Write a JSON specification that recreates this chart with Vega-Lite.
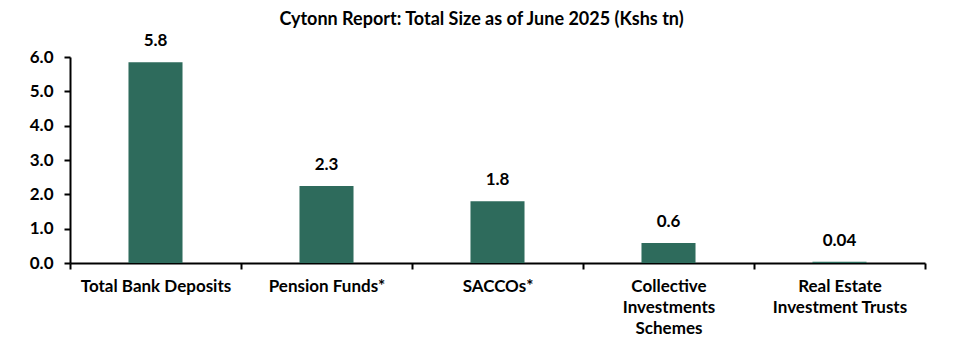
{
  "$schema": "https://vega.github.io/schema/vega-lite/v6.json",
  "width": 855,
  "height": 206,
  "autosize": "none",
  "padding": {"left": 70, "top": 57, "right": 31, "bottom": 91},
  "background": "white",
  "title": {
    "text": "Cytonn Report: Total Size as of June 2025 (Kshs tn)",
    "font": "Lato",
    "fontSize": 18,
    "fontWeight": "bold",
    "color": "black",
    "anchor": "middle",
    "dx": -16,
    "offset": 3
  },
  "config": {"view": {"stroke": null}},
  "data": {
    "values": [
      {"category": "Total Bank Deposits", "value": 5.85, "label": "5.8"},
      {"category": "Pension Funds*", "value": 2.24, "label": "2.3"},
      {"category": "SACCOs*", "value": 1.8, "label": "1.8"},
      {"category": "Collective|Investments|Schemes", "value": 0.58, "label": "0.6"},
      {"category": "Real Estate|Investment Trusts", "value": 0.04, "label": "0.04"}
    ]
  },
  "encoding": {
    "x": {
      "field": "category",
      "type": "nominal",
      "sort": null,
      "scale": {"paddingInner": 0, "paddingOuter": 0},
      "axis": {
        "title": null,
        "labelAngle": 0,
        "tickBand": "extent",
        "labelExpr": "split(datum.label, '|')",
        "labelLineHeight": 21,
        "labelFont": "Lato",
        "labelFontSize": 17,
        "labelFontWeight": "bold",
        "labelColor": "black",
        "labelPadding": 9,
        "labelBaseline": "top",
        "tickSize": 6,
        "tickWidth": 2,
        "tickColor": "black",
        "domainColor": "black",
        "domainWidth": 2
      }
    },
    "y": {
      "field": "value",
      "type": "quantitative",
      "scale": {"domain": [0, 6], "nice": false},
      "axis": {
        "title": null,
        "grid": false,
        "values": [0, 1, 2, 3, 4, 5, 6],
        "format": ".1f",
        "labelFont": "Lato",
        "labelFontSize": 17,
        "labelFontWeight": "bold",
        "labelColor": "black",
        "labelPadding": 11,
        "tickSize": 6,
        "tickWidth": 2,
        "tickColor": "black",
        "domainColor": "black",
        "domainWidth": 2
      }
    }
  },
  "layer": [
    {
      "mark": {"type": "bar", "color": "#2E6B5C", "width": {"band": 0.316}}
    },
    {
      "mark": {
        "type": "text",
        "font": "Lato",
        "fontSize": 17,
        "fontWeight": "bold",
        "color": "black",
        "baseline": "bottom",
        "dy": -12
      },
      "encoding": {"text": {"field": "label"}}
    }
  ]
}
